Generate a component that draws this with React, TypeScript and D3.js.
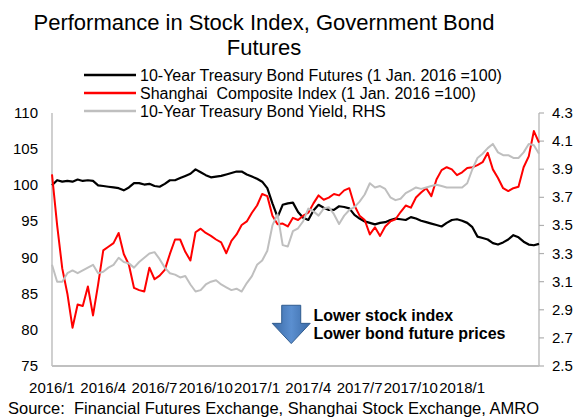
import React from "react";
import * as d3 from "d3";

const STEP = 0.3; // months between samples
const futures = [
  100.0, 100.7, 100.5, 100.6, 100.5, 100.8, 100.6, 100.7, 100.6, 100.0,
  99.9, 99.8, 99.7, 99.6, 99.3, 99.7, 100.3, 100.3, 100.1, 100.2,
  99.9, 99.8, 100.2, 100.7, 100.7, 101.0, 101.3, 101.6, 102.2, 101.8,
  101.4, 101.1, 101.2, 101.3, 101.5, 101.7, 101.9, 101.9, 101.5, 101.2,
  100.9, 100.5, 99.6, 97.5, 95.6, 97.3, 97.5, 97.6, 96.3, 95.5,
  95.2, 96.5, 97.3, 96.9, 96.6, 96.6, 97.1, 97.0, 96.8, 95.9,
  95.4, 95.0, 94.8, 94.6, 94.8, 94.9, 95.2, 95.4, 95.3, 95.2,
  95.6, 95.4, 95.1, 94.9, 94.7, 94.5, 94.3, 94.8, 95.2, 95.3,
  95.1, 94.8, 94.2, 92.9, 92.7, 92.5, 92.0, 91.8, 92.1, 92.5,
  93.1, 92.8, 92.2, 91.8, 91.7, 91.9,
];
const shanghai = [
  101.5, 94.5, 88.5, 85.0, 80.3, 83.5, 83.3, 86.0, 82.0, 86.3,
  91.0, 91.5, 92.0, 93.4, 90.5, 89.0, 85.8, 85.5, 85.3, 88.6,
  87.0, 87.5, 88.3, 90.5, 92.5, 92.5, 90.8, 89.6, 93.5, 94.0,
  93.4, 93.0, 92.5, 92.1, 90.6, 92.3, 93.2, 94.5, 95.0, 96.2,
  97.2, 98.8, 98.5, 95.8, 94.6, 94.7, 94.3, 95.5, 95.2, 95.8,
  96.2, 97.5, 98.6, 98.0, 98.3, 98.8, 98.6, 99.3, 99.6, 97.2,
  95.8, 95.2, 93.2, 94.2, 93.0, 94.3, 95.0, 95.3, 96.3, 97.2,
  96.9, 98.3, 99.0, 99.6, 98.5, 100.8, 102.1, 102.5, 102.2, 101.4,
  101.8, 102.4, 102.5, 102.8, 103.2, 104.5, 102.2, 101.0, 99.6, 99.2,
  99.6, 99.8, 102.5, 104.0, 107.5, 105.9,
];
const yieldRHS = [
  3.22, 3.10, 3.10, 3.16, 3.18, 3.16, 3.18, 3.20, 3.22, 3.16,
  3.17, 3.20, 3.22, 3.27, 3.24, 3.23, 3.20, 3.24, 3.27, 3.30,
  3.31, 3.26, 3.20, 3.16, 3.15, 3.13, 3.14, 3.08, 3.03, 3.04,
  3.08, 3.10, 3.11, 3.08, 3.06, 3.04, 3.05, 3.03, 3.09, 3.14,
  3.22, 3.25, 3.32, 3.50, 3.58, 3.36, 3.35, 3.46, 3.48, 3.53,
  3.62, 3.60, 3.57, 3.62, 3.63, 3.58, 3.51, 3.57, 3.61, 3.63,
  3.67, 3.72, 3.80, 3.77, 3.78, 3.76, 3.70, 3.68, 3.69, 3.73,
  3.75, 3.77, 3.76, 3.77, 3.78, 3.79, 3.78, 3.77, 3.77, 3.77,
  3.77, 3.80, 3.90, 3.98, 4.01, 4.05, 4.08, 4.02, 4.00, 4.00,
  3.98, 3.98, 4.02, 4.08, 4.07, 4.01,
];

const xTickLabels = ["2016/1", "2016/4", "2016/7", "2016/10", "2017/1", "2017/4", "2017/7", "2017/10", "2018/1"];
const leftTicks = [75, 80, 85, 90, 95, 100, 105, 110];
const rightTicks = [2.5, 2.7, 2.9, 3.1, 3.3, 3.5, 3.7, 3.9, 4.1, 4.3];

const titleLines = ["Performance in Stock Index, Government Bond", "Futures"];
const legendItems = [
  { label: "10-Year Treasury Bond Futures (1 Jan. 2016 =100)", color: "#000000" },
  { label: "Shanghai  Composite Index (1 Jan. 2016 =100)", color: "#ff0000" },
  { label: "10-Year Treasury Bond Yield, RHS", color: "#bfbfbf" },
];
const annotationLines = ["Lower stock index", "Lower bond future prices"];
const sourceText = "Source:  Financial Futures Exchange, Shanghai Stock Exchange, AMRO";

const FONT = "'Liberation Sans', Arial, sans-serif";

export default function App() {
  const W = 579, H = 419;
  const left = 52, right = 539, top = 113, bottom = 366;
  const x = d3.scaleLinear().domain([0, 28.5]).range([left, right]);
  const yL = d3.scaleLinear().domain([75, 110]).range([bottom, top]);
  const yR = d3.scaleLinear().domain([2.5, 4.3]).range([bottom, top]);

  const lineL = d3.line<number>().x((_, i) => x(i * STEP)).y((d) => yL(d));
  const lineR = d3.line<number>().x((_, i) => x(i * STEP)).y((d) => yR(d));

  // annotation arrow (in data units)
  const ax = 14.0, aTop = 83.4, aNeck = 80.9, aTip = 78.1;
  const cx = x(ax);
  const shaftHalf = 9.5, headHalf = 19;
  const arrowPath = `M${cx - shaftHalf},${yL(aTop)} L${cx + shaftHalf},${yL(aTop)} L${cx + shaftHalf},${yL(aNeck)} L${cx + headHalf},${yL(aNeck)} L${cx},${yL(aTip)} L${cx - headHalf},${yL(aNeck)} L${cx - shaftHalf},${yL(aNeck)} Z`;

  return (
    <svg width={W} height={H} style={{ position: "absolute", left: 0, top: 0, background: "#fff" }} fontFamily={FONT}>
      <defs>
        <linearGradient id="arrowGrad" x1="0" y1="0" x2="1" y2="0">
          <stop offset="0" stopColor="#3a6aa6" />
          <stop offset="0.5" stopColor="#5b8fd0" />
          <stop offset="1" stopColor="#3a6aa6" />
        </linearGradient>
      </defs>
      {titleLines.map((t, i) => (
        <text key={t} x={264} y={30 + i * 24.5} textAnchor="middle" fontSize={22} fill="#000">{t}</text>
      ))}
      {legendItems.map((it, i) => (
        <g key={it.label}>
          <line x1={84} x2={136} y1={75 + i * 18} y2={75 + i * 18} stroke={it.color} strokeWidth={2.5} />
          <text x={140} y={80.5 + i * 18} fontSize={16} fill="#000" style={{ whiteSpace: "pre" }}>{it.label}</text>
        </g>
      ))}
      {/* axes */}
      <line x1={left} x2={left} y1={top} y2={bottom} stroke="#b0b0b0" strokeWidth={1.2} />
      <line x1={right} x2={right} y1={top} y2={bottom} stroke="#b0b0b0" strokeWidth={1.2} />
      <line x1={left} x2={right} y1={bottom} y2={bottom} stroke="#c0c0c0" strokeWidth={2} />
      {leftTicks.map((t) => (
        <text key={t} x={38} y={yL(t) + 5} textAnchor="end" fontSize={15} fill="#000">{t}</text>
      ))}
      {rightTicks.map((t) => (
        <g key={t}>
          <line x1={right} x2={right + 5} y1={yR(t)} y2={yR(t)} stroke="#b0b0b0" strokeWidth={1.2} />
          <text x={552} y={yR(t) + 5} fontSize={15} fill="#000">{t.toFixed(1)}</text>
        </g>
      ))}
      {xTickLabels.map((t, i) => (
        <text key={t} x={x(i * 3)} y={393} textAnchor="middle" fontSize={15} fill="#000">{t}</text>
      ))}
      {/* series */}
      <path d={lineL(futures) || ""} fill="none" stroke="#000" strokeWidth={2.2} strokeLinejoin="round" />
      <path d={lineL(shanghai) || ""} fill="none" stroke="#ff0000" strokeWidth={2} strokeLinejoin="round" />
      <path d={lineR(yieldRHS) || ""} fill="none" stroke="#bfbfbf" strokeWidth={2} strokeLinejoin="round" />
      {/* annotation */}
      <path d={arrowPath} fill="url(#arrowGrad)" stroke="#2f5b8f" strokeWidth={1} />
      {annotationLines.map((t, i) => (
        <text key={t} x={x(15.3)} y={yL(81.2) + i * 17.5} fontSize={16} fontWeight="bold" fill="#000">{t}</text>
      ))}
      <text x={8} y={414} fontSize={16.5} fill="#000" style={{ whiteSpace: "pre" }}>{sourceText}</text>
    </svg>
  );
}
